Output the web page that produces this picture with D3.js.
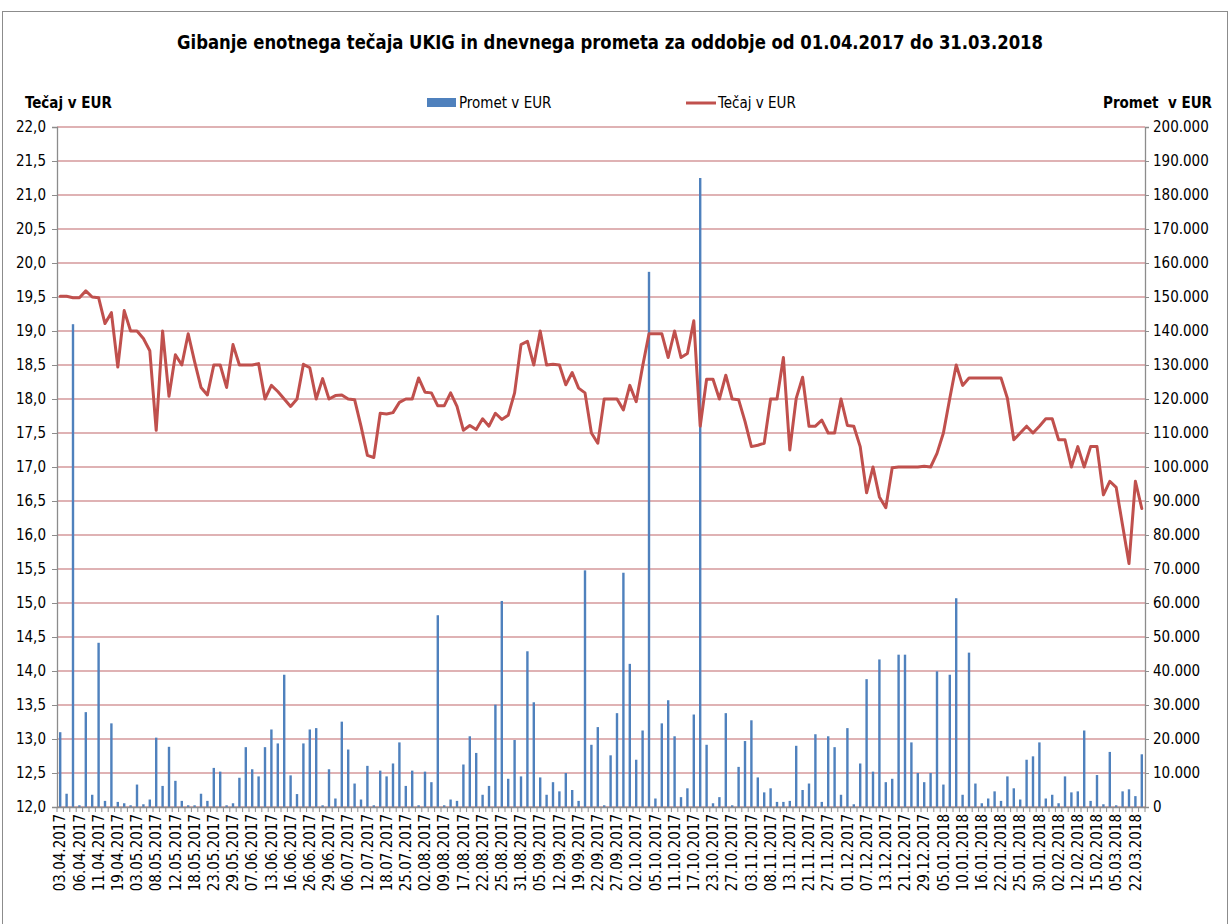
<!DOCTYPE html>
<html>
<head>
<meta charset="utf-8">
<script src="https://cdn.jsdelivr.net/npm/d3@7"></script>
<style>
  body { margin: 0; background: #fff; }
  svg text { font-family: "DejaVu Sans Condensed", "DejaVu Sans", sans-serif; fill: #000; }
</style>
</head>
<body>
<svg id="chart"></svg>
<script>
// data: every 3rd trading day carries a label
const dateLabels = [
  '03.04.2017', '06.04.2017', '11.04.2017', '19.04.2017', '03.05.2017', '08.05.2017', '12.05.2017', '18.05.2017', '23.05.2017', '29.05.2017',
  '07.06.2017', '13.06.2017', '16.06.2017', '26.06.2017', '29.06.2017', '06.07.2017', '12.07.2017', '18.07.2017', '25.07.2017', '02.08.2017',
  '09.08.2017', '17.08.2017', '22.08.2017', '25.08.2017', '31.08.2017', '05.09.2017', '12.09.2017', '19.09.2017', '22.09.2017',
  '27.09.2017', '02.10.2017', '05.10.2017', '11.10.2017', '17.10.2017', '23.10.2017', '27.10.2017', '03.11.2017', '08.11.2017', '13.11.2017',
  '21.11.2017', '27.11.2017', '01.12.2017', '07.12.2017', '13.12.2017', '21.12.2017', '29.12.2017', '05.01.2018', '10.01.2018',
  '16.01.2018', '22.01.2018', '25.01.2018', '30.01.2018', '02.02.2018', '12.02.2018', '15.02.2018', '05.03.2018', '22.03.2018'
];

// daily turnover in EUR
const promet = [
  22000, 3900, 142000, 500, 27900, 3600, 48300, 1800, 24600, 1500,
  1100, 500, 6600, 800, 2200, 20400, 6200, 17700, 7700, 1800,
  500, 500, 3900, 1800, 11500, 10400, 500, 1100, 8600, 17600,
  11100, 9000, 17600, 22800, 18700, 38900, 9300, 3800, 18700, 22800,
  23200, 500, 11100, 2500, 25100, 16900, 6900, 2200, 12100, 500,
  10700, 9000, 12800, 19000, 6200, 10700, 500, 10400, 7300, 56400,
  500, 2200, 1800, 12500, 20800, 15900, 3600, 6200, 30100, 60600,
  8300, 19700, 9000, 45800, 30800, 8700, 3600, 7300, 4600, 10000,
  5000, 1800, 69600, 18300, 23500, 500, 15200, 27600, 68900, 42100,
  13900, 22500, 157400, 2500, 24600, 31400, 20800, 2900, 5500, 27200,
  185000, 18300, 1100, 2900, 27600, 500, 11800, 19400, 25500, 8700,
  4300, 5500, 1500, 1500, 1800, 18000, 5000, 6900, 21400, 1500,
  20800, 17600, 3600, 23200, 800, 12800, 37600, 10400, 43400, 7300,
  8300, 44800, 44800, 19000, 10000, 7300, 10000, 39900, 6600, 38900,
  61400, 3600, 45400, 6900, 1100, 2500, 4600, 1800, 9000, 5500,
  2200, 13900, 14900, 19000, 2500, 3600, 1100, 9000, 4300, 4600,
  22500, 1800, 9400, 800, 16200, 500, 4600, 5200, 3200, 15500
];

// unit price in EUR
const tecaj = [
  19.51, 19.51, 19.49, 19.49, 19.59, 19.50, 19.49, 19.11, 19.27, 18.47,
  19.30, 19.00, 19.00, 18.89, 18.71, 17.54, 19.00, 18.04, 18.65, 18.50,
  18.96, 18.55, 18.17, 18.06, 18.50, 18.50, 18.17, 18.80, 18.50, 18.50,
  18.50, 18.52, 18.00, 18.20, 18.11, 18.00, 17.89, 18.00, 18.51, 18.46,
  18.00, 18.30, 18.00, 18.05, 18.06, 18.00, 17.99, 17.60, 17.17, 17.14,
  17.79, 17.78, 17.80, 17.95, 18.00, 18.00, 18.31, 18.10, 18.09, 17.90,
  17.90, 18.09, 17.89, 17.54, 17.61, 17.55, 17.71, 17.60, 17.79, 17.70,
  17.76, 18.09, 18.80, 18.85, 18.50, 19.00, 18.50, 18.51, 18.50, 18.21,
  18.39, 18.16, 18.09, 17.50, 17.35, 18.00, 18.00, 18.00, 17.84, 18.20,
  17.96, 18.48, 18.96, 18.96, 18.96, 18.61, 19.00, 18.61, 18.67, 19.15,
  17.60, 18.29, 18.29, 18.00, 18.35, 18.00, 17.99, 17.67, 17.30, 17.32,
  17.35, 18.00, 18.00, 18.61, 17.25, 18.01, 18.32, 17.60, 17.60, 17.69,
  17.50, 17.50, 18.00, 17.61, 17.60, 17.30, 16.62, 17.00, 16.56, 16.40,
  16.99, 17.00, 17.00, 17.00, 17.00, 17.01, 17.00, 17.20, 17.50, 18.01,
  18.50, 18.20, 18.31, 18.31, 18.31, 18.31, 18.31, 18.31, 18.01, 17.40,
  17.50, 17.60, 17.50, 17.60, 17.71, 17.71, 17.40, 17.40, 17.00, 17.30,
  17.00, 17.30, 17.30, 16.59, 16.79, 16.70, 16.14, 15.58, 16.79, 16.39
];

// constants
const width = 1230;
const height = 924;
const margin = { left: 57, right: 85, top: 127, bottom: 117 };
const visWidth = width - margin.left - margin.right;
const visHeight = height - margin.top - margin.bottom;

const svg = d3.select('#chart')
  .attr('width', width)
  .attr('height', height);

// chart area border
svg.append('rect')
  .attr('x', 2.5).attr('y', 11.5)
  .attr('width', 1225).attr('height', 1000)
  .attr('fill', 'none')
  .attr('stroke', '#8c8c8c')
  .attr('stroke-width', 1);

const chart = svg.append('g')
  .attr('transform', 'translate(' + margin.left + ',' + margin.top + ')');

const si = d3.formatLocale({ decimal: ',', thousands: '.', grouping: [3], currency: ['', '€'] });

const x = d3.scaleBand()
  .domain(d3.range(promet.length))
  .range([0, visWidth]);

const yL = d3.scaleLinear().domain([12, 22]).range([visHeight, 0]);
const yR = d3.scaleLinear().domain([0, 200000]).range([visHeight, 0]);

const leftTicks = d3.range(12, 22.01, 0.5);
const rightTicks = d3.range(0, 200001, 10000);

// gridlines
chart.append('g')
  .selectAll('line')
  .data(leftTicks)
  .enter().append('line')
  .attr('x1', 0)
  .attr('x2', visWidth)
  .attr('y1', d => yL(d))
  .attr('y2', d => yL(d))
  .attr('stroke', '#d4999b')
  .attr('stroke-width', 1.4);

// bars
chart.append('g')
  .selectAll('rect')
  .data(promet)
  .enter().append('rect')
  .attr('x', (d, i) => x(i) + x.bandwidth() / 2 - 1.2)
  .attr('width', 2.4)
  .attr('y', d => yR(d))
  .attr('height', d => visHeight - yR(d))
  .attr('fill', '#4f81bd');

// line
const line = d3.line()
  .x((d, i) => x(i) + x.bandwidth() / 2)
  .y(d => yL(d));

chart.append('path')
  .datum(tecaj)
  .attr('d', line)
  .attr('fill', 'none')
  .attr('stroke', '#c0504d')
  .attr('stroke-width', 3)
  .attr('stroke-linejoin', 'round')
  .attr('stroke-linecap', 'round');

// left axis
const axL = chart.append('g')
  .call(d3.axisLeft(yL).tickValues(leftTicks).tickSize(5).tickPadding(6).tickFormat(si.format('.1f')));
axL.selectAll('text').attr('font-size', 15);

// right axis
const axR = chart.append('g')
  .attr('transform', `translate(${visWidth},0)`)
  .call(d3.axisRight(yR).tickValues(rightTicks).tickSize(4).tickPadding(4).tickFormat(si.format(',')));
axR.selectAll('text').attr('font-size', 15);

// bottom axis: labels every 3rd day
const labelIdx = d3.range(0, promet.length, 3).slice(0, dateLabels.length);
const axB = chart.append('g')
  .attr('transform', `translate(0,${visHeight})`)
  .call(d3.axisBottom(x).tickValues(labelIdx).tickSize(0).tickFormat(i => dateLabels[i / 3]));
axB.selectAll('text')
  .attr('font-size', 15)
  .attr('transform', 'rotate(-90)')
  .attr('x', -7)
  .attr('y', 0)
  .attr('dy', '0.35em')
  .style('text-anchor', 'end');

// tick marks between categories
axB.selectAll('.bound')
  .data(d3.range(promet.length + 1))
  .enter().append('line')
  .attr('class', 'bound')
  .attr('x1', i => i * x.step())
  .attr('x2', i => i * x.step())
  .attr('y1', 0)
  .attr('y2', 5)
  .attr('stroke', '#8c8c8c');

[axL, axR, axB].forEach(a => {
  a.selectAll('.domain').attr('stroke', '#8c8c8c').attr('stroke-width', 1.3);
  a.selectAll('.tick line').attr('stroke', '#8c8c8c');
});

// title
svg.append('text')
  .attr('x', 610)
  .attr('y', 49)
  .attr('text-anchor', 'middle')
  .attr('font-size', 19)
  .attr('font-weight', 'bold')
  .attr('textLength', 866)
  .attr('lengthAdjust', 'spacingAndGlyphs')
  .text('Gibanje enotnega tečaja UKIG in dnevnega prometa za oddobje od 01.04.2017 do 31.03.2018');

// axis titles
svg.append('text')
  .attr('x', 25)
  .attr('y', 108)
  .attr('font-size', 15)
  .attr('font-weight', 'bold')
  .text('Tečaj v EUR');

svg.append('text')
  .attr('x', 1212)
  .attr('y', 108)
  .attr('text-anchor', 'end')
  .attr('font-size', 15)
  .attr('font-weight', 'bold')
  .attr('xml:space', 'preserve')
  .text('Promet  v EUR');

// legend
const legend = svg.append('g');
legend.append('rect')
  .attr('x', 427).attr('y', 98)
  .attr('width', 29).attr('height', 9)
  .attr('fill', '#4f81bd');
legend.append('text')
  .attr('x', 459).attr('y', 108)
  .attr('font-size', 15)
  .text('Promet v EUR');
legend.append('line')
  .attr('x1', 686).attr('x2', 716)
  .attr('y1', 103).attr('y2', 103)
  .attr('stroke', '#c0504d')
  .attr('stroke-width', 3);
legend.append('text')
  .attr('x', 718).attr('y', 108)
  .attr('font-size', 15)
  .text('Tečaj v EUR');
</script>
</body>
</html>
